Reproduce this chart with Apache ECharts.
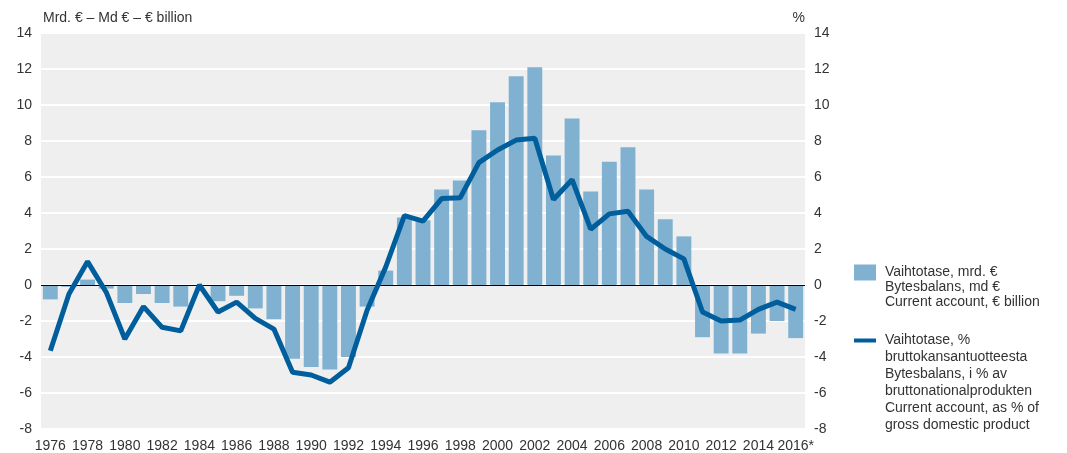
<!DOCTYPE html>
<html>
<head>
<meta charset="utf-8">
<script src="https://cdn.jsdelivr.net/npm/echarts@6/dist/echarts.min.js"></script>
<style>
html,body{margin:0;padding:0;background:#fff;}
#chart{width:1067px;height:453px;}
</style>
</head>
<body>
<div id="chart"></div>
<script>
const years = ['1976','1977','1978','1979','1980','1981','1982','1983','1984','1985','1986','1987','1988','1989','1990','1991','1992','1993','1994','1995','1996','1997','1998','1999','2000','2001','2002','2003','2004','2005','2006','2007','2008','2009','2010','2011','2012','2013','2014','2015','2016*'];
const currentAccountBn = [-0.8,-0.1,0.3,-0.2,-1.0,-0.5,-1.0,-1.2,-0.05,-0.9,-0.6,-1.3,-1.9,-4.1,-4.55,-4.7,-4.0,-1.2,0.8,3.75,3.6,5.3,5.8,8.6,10.15,11.6,12.1,7.2,9.25,5.2,6.85,7.65,5.3,3.65,2.7,-2.9,-3.8,-3.8,-2.7,-2.0,-2.95];
const currentAccountPct = [-3.65,-0.5,1.3,-0.4,-3.0,-1.2,-2.35,-2.55,0.0,-1.5,-0.95,-1.85,-2.45,-4.85,-5.0,-5.4,-4.6,-1.4,1.0,3.85,3.55,4.8,4.85,6.8,7.5,8.05,8.15,4.75,5.85,3.1,3.95,4.1,2.7,2.0,1.45,-1.5,-2.0,-1.95,-1.35,-0.95,-1.35];
const legendBar = ['Vaihtotase, mrd. €','Bytesbalans, md €','Current account, € billion'];
const legendLine = ['Vaihtotase, %','bruttokansantuotteesta','Bytesbalans, i % av','bruttonationalprodukten','Current account, as % of','gross domestic product'];
const leftAxisName = 'Mrd. € – Md € – € billion';
const rightAxisName = '%';

const FONT = 'Liberation Sans, Arial, sans-serif';
const TXT = '#333333';
// legend text: blank lines placed before the text so that the first line sits level with the icon
function legendText(lines){
  const blanks = new Array(lines.length - 1).fill('');
  return blanks.concat(lines.map(function(l){return ' ' + l;})).join('\n');
}
const chart = echarts.init(document.getElementById('chart'), null, {renderer:'canvas'});
const yAxisBase = {
  type:'value', min:-8, max:14, interval:2,
  axisLine:{show:false}, axisTick:{show:false}
};
chart.setOption({
  animation:false,
  textStyle:{fontFamily:FONT},
  grid:{left:41, right:262, top:33, bottom:23, show:true, backgroundColor:'#efefef', borderWidth:0, containLabel:false},
  xAxis:{
    type:'category', data:years,
    axisLine:{show:false}, axisTick:{show:false},
    axisLabel:{interval:1, fontSize:14, color:TXT, fontFamily:FONT, margin:10}
  },
  yAxis:[
    Object.assign({}, yAxisBase, {
      position:'left', name:leftAxisName, nameLocation:'end', nameGap:8,
      nameTextStyle:{fontSize:14, color:TXT, fontFamily:FONT, align:'left', padding:[0,0,0,2]},
      axisLabel:{fontSize:14, color:TXT, fontFamily:FONT, margin:9},
      splitLine:{show:true, lineStyle:{color:'#ffffff', width:2}}
    }),
    Object.assign({}, yAxisBase, {
      position:'right', name:rightAxisName, nameLocation:'end', nameGap:8,
      nameTextStyle:{fontSize:14, color:TXT, fontFamily:FONT, align:'right'},
      axisLabel:{fontSize:14, color:TXT, fontFamily:FONT, margin:9},
      splitLine:{show:false}
    })
  ],
  legend:[
    {
      data:['bar'], orient:'vertical', left:854, top:235, itemWidth:22, itemHeight:16,
      icon:'rect', itemGap:0, padding:0,
      formatter:function(){return legendText(legendBar);},
      textStyle:{fontSize:14, color:TXT, fontFamily:FONT, lineHeight:15}
    },
    {
      data:['line'], orient:'vertical', left:854, top:247, itemWidth:22, itemHeight:4,
      icon:'rect', itemGap:0, padding:0,
      formatter:function(){return legendText(legendLine);},
      textStyle:{fontSize:14, color:TXT, fontFamily:FONT, lineHeight:17}
    }
  ],
  series:[
    {
      name:'bar', type:'bar', data:currentAccountBn, yAxisIndex:0,
      barCategoryGap:'20%',
      itemStyle:{color:'#80b1d1'},
      markLine:{silent:true, symbol:'none', label:{show:false},
        lineStyle:{color:'#000000', width:1, type:'solid'},
        data:[{yAxis:0}]}
    },
    {
      name:'line', type:'line', data:currentAccountPct, yAxisIndex:1,
      symbol:'none', lineStyle:{color:'#005e9c', width:5}, itemStyle:{color:'#005e9c'},
      z:5
    }
  ]
});
</script>
</body>
</html>
